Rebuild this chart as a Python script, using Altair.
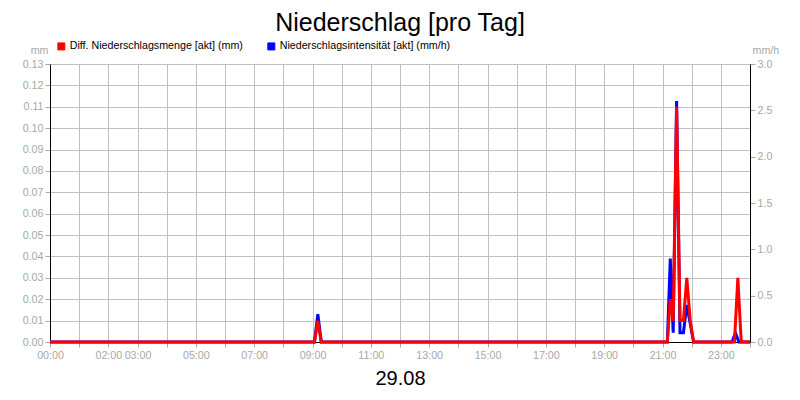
import altair as alt
import pandas as pd

TITLE = "Niederschlag [pro Tag]"
DATE_LABEL = "29.08"
SERIES = ["Diff. Niederschlagsmenge [akt] (mm)", "Niederschlagsintensität [akt] (mm/h)"]
COLORS = ["#ff0000", "#0000ff"]

RED_TIMES = ["00:00", "09:04", "09:11", "09:18", "21:10", "21:16", "21:22", "21:29",
             "21:36", "21:43", "21:50", "21:57", "22:04", "23:28", "23:35", "23:42", "24:00"]
RED_VALUES = [0, 0, 0.01, 0, 0, 0.02, 0.01, 0.11, 0.01, 0.01, 0.03, 0.01, 0, 0, 0.03, 0, 0]

BLUE_TIMES = ["00:00", "09:04", "09:11", "09:18", "21:10", "21:16", "21:22", "21:29",
              "21:36", "21:43", "21:50", "21:57", "22:04", "23:23", "23:30", "23:37", "24:00"]
BLUE_VALUES = [0, 0, 0.3, 0, 0, 0.9, 0.1, 2.6, 0.1, 0.1, 0.4, 0.2, 0, 0, 0.1, 0, 0]

LEFT_TICKS = [0.00, 0.01, 0.02, 0.03, 0.04, 0.05, 0.06, 0.07, 0.08, 0.09, 0.10, 0.11, 0.12, 0.13]
RIGHT_TICKS = [0.0, 0.5, 1.0, 1.5, 2.0, 2.5, 3.0]
HOUR_TICKS = list(range(0, 25))
LABELED_HOURS = [0, 2, 3, 5, 7, 9, 11, 13, 15, 17, 19, 21, 23]

FONT = "Liberation Sans"
GRAY = "#a8a8a8"
GRID = "#c0c0c0"


def to_hours(t):
    h, m = t.split(":")
    return int(h) + int(m) / 60.0


red_df = pd.DataFrame({"h": [to_hours(t) for t in RED_TIMES], "v": RED_VALUES, "s": SERIES[0]})
blue_df = pd.DataFrame({"h": [to_hours(t) for t in BLUE_TIMES], "v": BLUE_VALUES, "s": SERIES[1]})
legend_df = pd.DataFrame({"s": SERIES})
title_df = pd.DataFrame({"t": [TITLE]})

lab_list = ",".join(str(h) for h in LABELED_HOURS)
label_expr = ("indexof([" + lab_list + "], datum.value) >= 0 ? "
              "(datum.value < 10 ? '0' : '') + datum.value + ':00' : ''")

x_axis = alt.Axis(
    values=HOUR_TICKS, labelExpr=label_expr, title=DATE_LABEL,
    grid=True, gridColor=GRID, gridWidth=1,
    labelColor=GRAY, labelFontSize=10.7, labelFont=FONT, labelPadding=3,
    tickColor=GRAY, tickSize=5, domainColor="black", labelFlush=False, labelOverlap=False,
    titleFontSize=20, titleFont=FONT, titleFontWeight="normal", titleColor="black",
    titleX=350, titleY=42, titleBaseline="alphabetic", titleAlign="center",
)
x_enc = alt.X("h:Q", scale=alt.Scale(domain=[0, 24], nice=False, zero=False), axis=x_axis)

left_axis = alt.Axis(
    values=LEFT_TICKS, format=".2f", orient="left", title="mm",
    grid=True, gridColor=GRID, gridWidth=1,
    labelColor=GRAY, labelFontSize=10.7, labelFont=FONT, labelPadding=2,
    tickColor=GRAY, tickSize=5, domainColor="black",
    titleAngle=0, titleX=-2, titleY=-11, titleAlign="right", titleBaseline="alphabetic",
    titleColor=GRAY, titleFontSize=10.7, titleFont=FONT, titleFontWeight="normal",
)
right_axis = alt.Axis(
    values=RIGHT_TICKS, format=".1f", orient="right", title="mm/h",
    grid=False,
    labelColor=GRAY, labelFontSize=10.7, labelFont=FONT, labelPadding=2,
    tickColor=GRAY, tickSize=5, domainColor="black",
    titleAngle=0, titleX=2, titleY=-11, titleAlign="left", titleBaseline="alphabetic",
    titleColor=GRAY, titleFontSize=10.7, titleFont=FONT, titleFontWeight="normal",
)

color_scale = alt.Scale(domain=SERIES, range=COLORS)
legend = alt.Legend(
    orient="none", legendX=6, legendY=-23, direction="horizontal", title=None,
    symbolType="square", symbolSize=49, symbolStrokeColor="black", symbolStrokeWidth=1,
    symbolOpacity=1,
    labelFontSize=10.7, labelFont=FONT, labelColor="black", labelOffset=3, labelLimit=400,
    columnPadding=22, padding=0,
)

# legend-only layer (draws no marks: filtered to nothing), gives filled squares
legend_layer = alt.Chart(legend_df).transform_filter("false").mark_square(
    filled=True, opacity=1
).encode(
    color=alt.Color("s:N", scale=color_scale, legend=legend),
)

blue = alt.Chart(blue_df).mark_line(strokeWidth=3).encode(
    x=x_enc,
    y=alt.Y("v:Q", scale=alt.Scale(domain=[0, 3], nice=False), axis=right_axis),
    color=alt.Color("s:N", scale=color_scale, legend=None),
    order=alt.Order("h:Q"),
)
red = alt.Chart(red_df).mark_line(strokeWidth=3).encode(
    x=x_enc,
    y=alt.Y("v:Q", scale=alt.Scale(domain=[0, 0.13], nice=False), axis=left_axis),
    color=alt.Color("s:N", scale=color_scale, legend=None),
    order=alt.Order("h:Q"),
)

title_layer = alt.Chart(title_df).mark_text(
    fontSize=25, font=FONT, color="black", align="center", baseline="alphabetic"
).encode(text="t:N", x=alt.value(350), y=alt.value(-33))

chart = alt.layer(legend_layer, blue, red, title_layer).resolve_scale(
    y="independent"
).properties(
    width=700, height=278,
    padding={"left": 42, "top": 56, "right": 42, "bottom": 50},
    autosize=alt.AutoSizeParams(type="none"),
).configure_view(stroke="black", strokeWidth=1).configure(background="white")

chart.save("out.html", embed_options={"renderer": "svg", "actions": False})
